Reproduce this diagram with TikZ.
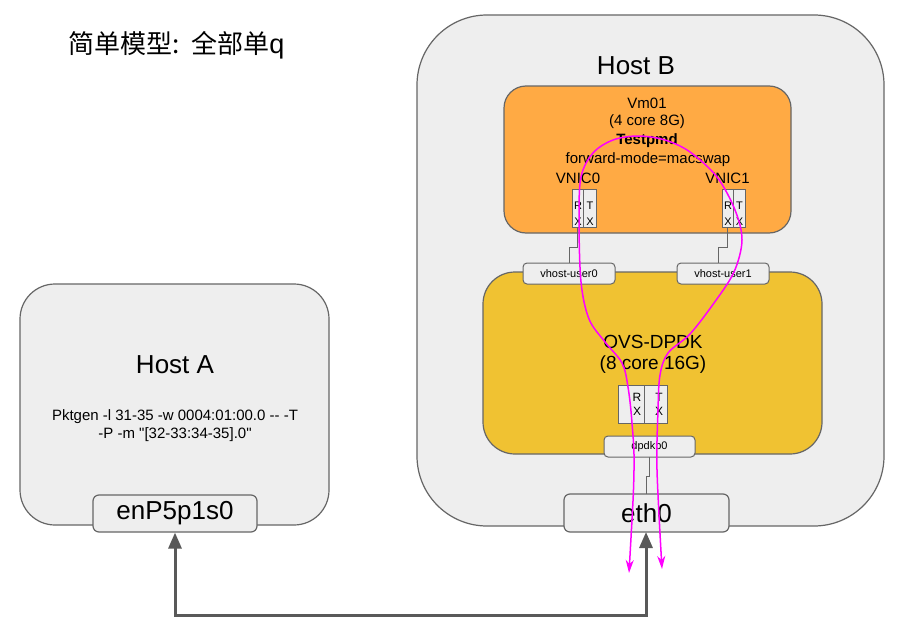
\documentclass[tikz,border=0pt]{standalone}
\usepackage{fontspec}
\setmainfont{Liberation Sans}[Ligatures=TeXOff]
\newfontfamily\cjk{Noto Sans CJK SC}[Ligatures=TeXOff]
\usetikzlibrary{arrows.meta}
\definecolor{boxgray}{HTML}{EEEEEE}
\definecolor{edgegray}{HTML}{666666}
\definecolor{vmorange}{HTML}{FFAA44}
\definecolor{ovsgold}{HTML}{F0C232}
\definecolor{arrowgray}{HTML}{595959}
\definecolor{flowpink}{HTML}{FF00FF}
\tikzset{
  hostbox/.style={draw=edgegray, fill=boxgray, line width=1.2pt, inner sep=0pt},
  innerbox/.style={draw=edgegray, line width=1.2pt, inner sep=0pt},
  smallbox/.style={draw=edgegray, fill=boxgray, line width=1pt, rounded corners=4pt, inner sep=0pt},
  portbox/.style={draw=edgegray, fill=boxgray, line width=1pt, inner sep=0pt},
  ifbox/.style={draw=edgegray, fill=boxgray, line width=1.2pt, rounded corners=6pt, inner sep=0pt,
    font=\fontsize{26}{30}\selectfont},
  bigtext/.style={font=\fontsize{26}{30}\selectfont, inner sep=0pt},
  midtext/.style={font=\fontsize{19}{23}\selectfont, inner sep=0pt, align=center},
  vmtext/.style={font=\fontsize{15}{19}\selectfont, inner sep=0pt},
  tinytext/.style={font=\fontsize{11}{13}\selectfont, inner sep=0pt},
  rxtext/.style={font=\fontsize{11}{16}\selectfont, inner sep=0pt, align=center},
  linkline/.style={draw=edgegray, line width=1pt},
  wire/.style={draw=arrowgray, line width=3pt, {Triangle[length=16pt,width=13pt]}-{Triangle[length=16pt,width=13pt]}},
  flow/.style={draw=flowpink, line width=1.5pt, {Stealth[length=13pt,width=8pt,inset=4pt]}-{Stealth[length=13pt,width=8pt,inset=4pt]}}
}
\begin{document}
\begin{tikzpicture}[x=1pt,y=-1pt]
\useasboundingbox (0,0) rectangle (904,642);
\fill[white] (0,0) rectangle (904,642);

% title
\node[anchor=west, inner sep=0pt] (title) at (68,45)
  {{\cjk\fontsize{26}{30}\selectfont 简单模型:\hspace{12pt}全部单}{\fontsize{27}{30}\selectfont q}};

% hosts
\node[hostbox, rounded corners=35pt, minimum width=309pt, minimum height=241pt] (hostA) at (174.5,404.5) {};
\node[hostbox, rounded corners=70pt, minimum width=467pt, minimum height=511pt] (hostB) at (650.5,270.5) {};

\node[bigtext] (hostAlabel) at (175,365) {Host A};
\node[vmtext, align=center, font=\fontsize{15}{18}\selectfont] (pktgen) at (175,426)
  {Pktgen -l 31-35 -w 0004:01:00.0 -- -T\\-P -m "[32-33:34-35].0"};
\node[bigtext] (hostBlabel) at (636,66) {Host B};

% VM and OVS
\node[innerbox, fill=vmorange, rounded corners=22pt, minimum width=287pt, minimum height=147pt] (vm) at (647.5,159.5) {};
\node[innerbox, fill=ovsgold, rounded corners=32pt, minimum width=339pt, minimum height=182pt] (ovs) at (652.5,363) {};

\node[vmtext] (vmname) at (647,103) {Vm01};
\node[vmtext] (vmcfg) at (647,122) {(4 core 8G)};
\node[vmtext, font=\fontsize{15}{19}\bfseries] (testpmd) at (647,141) {Testpmd};
\node[vmtext] (fwd) at (648,160) {forward-mode=macswap};
\node[vmtext] (vnic0) at (578,178) {VNIC0};
\node[vmtext] (vnic1) at (727.5,178) {VNIC1};

\node[midtext] (ovsname) at (653,342) {OVS-DPDK};
\node[midtext] (ovscfg) at (653,365) {(8 core 16G)};

% VNIC ports
\node[portbox, minimum width=11pt, minimum height=38pt] (rx0) at (577.5,208) {};
\node[portbox, minimum width=13pt, minimum height=38pt] (tx0) at (589.5,208) {};
\node[portbox, minimum width=11pt, minimum height=38pt] (rx1) at (727.5,208) {};
\node[portbox, minimum width=12pt, minimum height=38pt] (tx1) at (739,208) {};
\node[rxtext] (rx0t) at (578,214) {R\\X};
\node[rxtext] (tx0t) at (590,214) {T\\X};
\node[rxtext] (rx1t) at (728,214) {R\\X};
\node[rxtext] (tx1t) at (739.5,214) {T\\X};

% OVS ports
\node[portbox, minimum width=26pt, minimum height=38pt] (orx) at (631,404) {};
\node[portbox, minimum width=23pt, minimum height=38pt] (otx) at (655.5,404) {};
\node[rxtext, font=\fontsize{12}{14}\selectfont] (orxt) at (637,404) {R\\X};
\node[rxtext, font=\fontsize{12}{14}\selectfont] (otxt) at (659,404) {T\\X};

% links
\coordinate (step0) at (0,247);
\coordinate (step1) at (0,247);
\coordinate (vu1top) at (718,263);
\draw[linkline] (rx0.south) -- (rx0.south |- step0) -- (569,247) -- (569,263);
\draw[linkline] (rx1.south) -- (rx1.south |- step1) -- (vu1top |- step1) -- (vu1top);
\draw[linkline] (649,457) -- (649,476) -- (646,476) -- (646,494);

% vhost & dpdk ports
\node[smallbox, minimum width=92pt, minimum height=21pt, tinytext] (vu0) at (569,273.5) {vhost-user0};
\node[smallbox, minimum width=92pt, minimum height=21pt, tinytext] (vu1) at (723,273.5) {vhost-user1};
\node[smallbox, minimum width=91pt, minimum height=21pt, tinytext] (dp0) at (649.5,446.5) {dpdkp0};

% NIC boxes
\node[ifbox, minimum width=164pt, minimum height=37pt] (enp) at (175,513.5) {enP5p1s0};
\node[ifbox, minimum width=165pt, minimum height=38pt] (eth) at (646.5,513) {eth0};

% cable
\coordinate (cable) at (0,615);
\draw[wire] (enp.south) -- (enp.south |- cable) -- (646,615) -- (646,532);

% packet flow
\draw[flow] plot[smooth, tension=0.55] coordinates {
  (629,573) (634,470) (632,423) (628,387) (622,363) (605,342) (589,319)
  (581,282) (579,220) (581,177) (593,153) (613,140) (638,136) (665,140)
  (690,152) (717,177) (735,210) (742,240) (734,272) (714,303) (690,334)
  (668,353) (660,375) (658,410) (657,470) (662,569)};
\end{tikzpicture}
\end{document}
